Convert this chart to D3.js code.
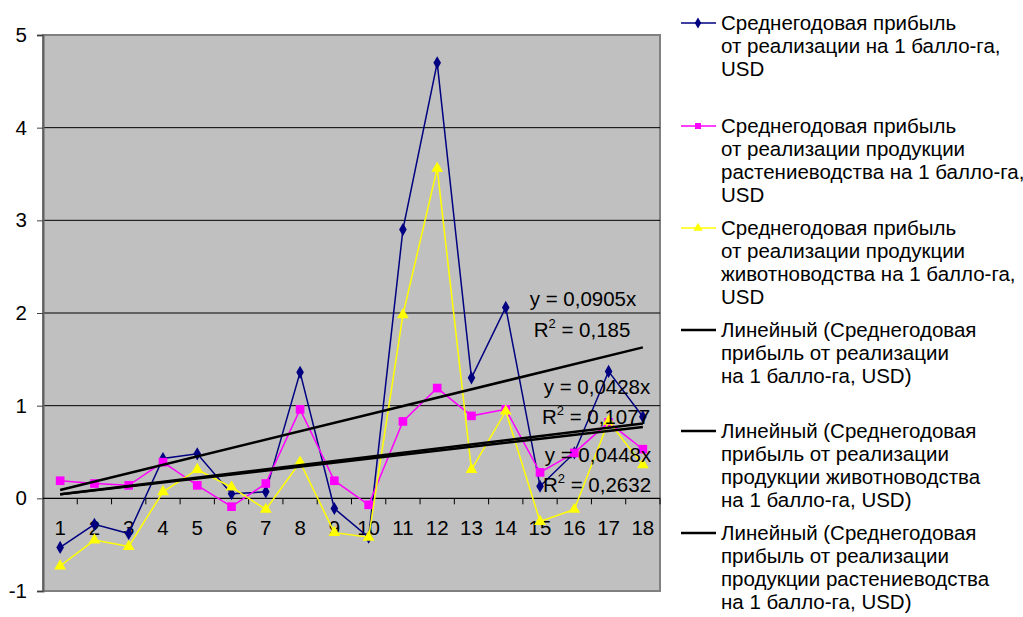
<!DOCTYPE html>
<html>
<head>
<meta charset="utf-8">
<script src="https://cdn.jsdelivr.net/npm/d3@7"></script>
<style>
  body { margin: 0; background: #fff; }
  svg text { font-family: "Liberation Sans", Arial, sans-serif; fill: #000; }
</style>
</head>
<body>
<div class="chart"></div>
<script>
// categories on the x axis
const categories = ["1","2","3","4","5","6","7","8","9","10","11","12","13","14","15","16","17","18"];

// series values
const totalProfit = [-0.53, -0.28, -0.38, 0.43, 0.48, 0.05, 0.07, 1.36, -0.11, -0.42, 2.90, 4.70, 1.30, 2.06, 0.13, 0.49, 1.37, 0.88];
const cropProfit = [0.19, 0.16, 0.14, 0.39, 0.14, -0.09, 0.16, 0.96, 0.19, -0.07, 0.83, 1.19, 0.89, 0.96, 0.28, 0.49, 0.82, 0.53];
const livestockProfit = [-0.73, -0.45, -0.52, 0.07, 0.31, 0.12, -0.12, 0.39, -0.37, -0.42, 1.98, 3.56, 0.31, 0.94, -0.25, -0.12, 0.83, 0.36];

// trend line slopes (y = kx) and labels
const trendSlopes = [0.0905, 0.0428, 0.0448];
const trendEq = ["y = 0,0905x", "y = 0,0428x", "y = 0,0448x"];
const trendR2 = ["0,185", "0,1077", "0,2632"];

const yTicks = [-1, 0, 1, 2, 3, 4, 5];

const legendLabels = [
  ["Среднегодовая прибыль", "от реализации на 1 балло-га,", "USD"],
  ["Среднегодовая прибыль", "от реализации продукции", "растениеводства на 1 балло-га,", "USD"],
  ["Среднегодовая прибыль", "от реализации продукции", "животноводства на 1 балло-га,", "USD"],
  ["Линейный (Среднегодовая", "прибыль от реализации", "на 1 балло-га, USD)"],
  ["Линейный (Среднегодовая", "прибыль от реализации", "продукции животноводства", "на 1 балло-га, USD)"],
  ["Линейный (Среднегодовая", "прибыль от реализации", "продукции растениеводства", "на 1 балло-га, USD)"]
];

const width = 1023, height = 617;
const plot = { left: 43, right: 660, top: 35, bottom: 591 };
const fs = "20.5px";

const svg = d3.select(".chart").append("svg")
  .attr("width", width)
  .attr("height", height);

const x = d3.scaleBand().domain(categories).range([plot.left, plot.right]);
const y = d3.scaleLinear().domain([-1, 5]).range([plot.bottom, plot.top]);
const cx = i => x(categories[i]) + x.bandwidth() / 2;

// plot background
svg.append("rect")
  .attr("x", plot.left).attr("y", plot.top)
  .attr("width", plot.right - plot.left).attr("height", plot.bottom - plot.top)
  .attr("fill", "#c0c0c0")
  .attr("stroke", "#808080").attr("stroke-width", 2);

// gridlines
svg.append("g").selectAll("line")
  .data(yTicks.filter(t => t > 0 && t < 5))
  .join("line")
  .attr("x1", plot.left).attr("x2", plot.right)
  .attr("y1", d => y(d)).attr("y2", d => y(d))
  .attr("stroke", "#000").attr("stroke-width", 1);

// y axis
const yAxis = svg.append("g")
  .attr("transform", `translate(${plot.left},0)`)
  .call(d3.axisLeft(y).tickValues(yTicks).tickSize(6).tickPadding(10).tickFormat(d => String(d)));
yAxis.select(".domain").attr("stroke", "#606060").attr("stroke-width", 2);
yAxis.selectAll(".tick line").attr("stroke", "#404040");
yAxis.selectAll("text").style("font-size", fs).attr("fill", "#000")
  .style("font-family", "'Liberation Sans', Arial, sans-serif");

// x axis at zero
svg.append("line")
  .attr("x1", plot.left).attr("x2", plot.right)
  .attr("y1", y(0)).attr("y2", y(0))
  .attr("stroke", "#000").attr("stroke-width", 1.3);
svg.append("g").selectAll("line")
  .data(d3.range(1, categories.length + 1))
  .join("line")
  .attr("x1", i => plot.left + i * x.bandwidth()).attr("x2", i => plot.left + i * x.bandwidth())
  .attr("y1", y(0)).attr("y2", y(0) + 6)
  .attr("stroke", "#000");
svg.append("g").selectAll("text")
  .data(categories)
  .join("text")
  .attr("x", (d, i) => cx(i))
  .attr("y", y(0) + 37)
  .attr("text-anchor", "middle")
  .style("font-size", fs)
  .text(d => d);

// series
const series = [
  { values: totalProfit, color: "#000080", shape: d3.symbolDiamond, size: 50 },
  { values: cropProfit, color: "#ff00ff", shape: d3.symbolSquare, size: 75 },
  { values: livestockProfit, color: "#ffff00", shape: d3.symbolTriangle, size: 60 }
];

const line = d3.line().x((d, i) => cx(i)).y(d => y(d));

series.forEach(s => {
  svg.append("path")
    .attr("d", line(s.values))
    .attr("fill", "none")
    .attr("stroke", s.color)
    .attr("stroke-width", 1.5);
  svg.append("g").selectAll("path")
    .data(s.values)
    .join("path")
    .attr("transform", (d, i) => `translate(${cx(i)},${y(d)})`)
    .attr("d", d3.symbol().type(s.shape).size(s.size))
    .attr("fill", s.color);
});

// trend lines
trendSlopes.forEach(k => {
  svg.append("line")
    .attr("x1", cx(0)).attr("y1", y(k * 1))
    .attr("x2", cx(categories.length - 1)).attr("y2", y(k * categories.length))
    .attr("stroke", "#000").attr("stroke-width", 2.5);
});

// trend labels
const labelPos = [[583, 306, 582, 337], [597, 394, 596, 424], [598, 462, 597, 492]];
trendEq.forEach((eq, i) => {
  const p = labelPos[i];
  svg.append("text").attr("x", p[0]).attr("y", p[1])
    .attr("text-anchor", "middle").style("font-size", fs).text(eq);
  const t = svg.append("text").attr("x", p[2]).attr("y", p[3])
    .attr("text-anchor", "middle").style("font-size", fs);
  t.append("tspan").text("R");
  t.append("tspan").attr("dy", -9).style("font-size", "13px").text("2");
  t.append("tspan").attr("dy", 9).text(" = " + trendR2[i]);
});

// legend
const legendTop = [30, 133, 235, 337, 438, 540];
const legendColors = ["#000080", "#ff00ff", "#ffff00", "#000", "#000", "#000"];
const legendShapes = [d3.symbolDiamond, d3.symbolSquare, d3.symbolTriangle, null, null, null];

legendLabels.forEach((lines, i) => {
  const g = svg.append("g").attr("transform", `translate(0,${legendTop[i]})`);
  g.append("line")
    .attr("x1", 681).attr("x2", 716).attr("y1", -7).attr("y2", -7)
    .attr("stroke", legendColors[i]).attr("stroke-width", i < 3 ? 1.5 : 2.5);
  if (legendShapes[i]) {
    g.append("path")
      .attr("transform", "translate(698,-7)")
      .attr("d", d3.symbol().type(legendShapes[i]).size(36))
      .attr("fill", legendColors[i]);
  }
  lines.forEach((t, j) => {
    g.append("text")
      .attr("x", 721).attr("y", j * 23)
      .style("font-size", fs)
      .text(t);
  });
});
</script>
</body>
</html>
